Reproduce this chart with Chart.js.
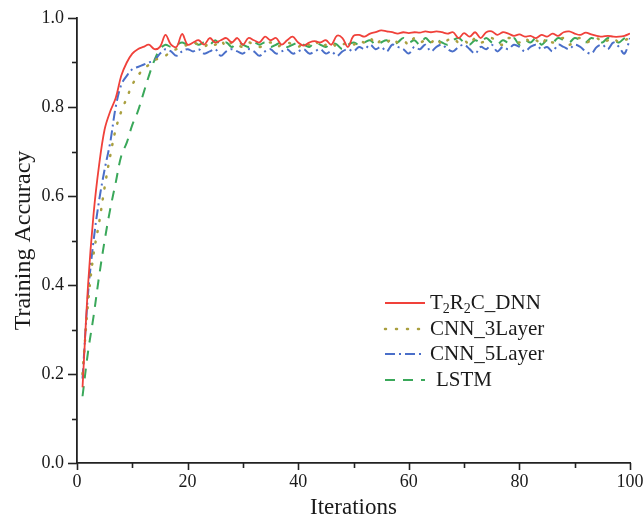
<!DOCTYPE html>
<html>
<head>
<meta charset="utf-8">
<script src="https://cdn.jsdelivr.net/npm/chart.js@4/dist/chart.umd.min.js"></script>
<style>
  html, body { margin: 0; padding: 0; background: #fff; }
  #wrap { width: 644px; height: 521px; }
</style>
</head>
<body>
<div id="wrap"><canvas id="accChart" width="644" height="521"></canvas></div>
<script>
// iterations 1..100
const iterations = Array.from({ length: 100 }, (_, i) => i + 1);

const seriesNames = ['T2R2C_DNN', 'CNN_3Layer', 'CNN_5Layer', 'LSTM'];

const dnnAcc = [
  0.17, 0.40, 0.56, 0.67, 0.75, 0.79, 0.82, 0.87, 0.90, 0.92,
  0.93, 0.935, 0.94, 0.93, 0.935, 0.962, 0.94, 0.935, 0.964, 0.94,
  0.945, 0.95, 0.94, 0.955, 0.945, 0.95, 0.955, 0.945, 0.955, 0.94,
  0.955, 0.95, 0.945, 0.958, 0.95, 0.955, 0.94, 0.95, 0.958, 0.945,
  0.938, 0.945, 0.948, 0.945, 0.95, 0.94, 0.96, 0.955, 0.935, 0.96,
  0.962, 0.958, 0.965, 0.968, 0.972, 0.97, 0.968, 0.965, 0.968, 0.966,
  0.968, 0.967, 0.97, 0.968, 0.97, 0.968, 0.965, 0.968, 0.955, 0.966,
  0.958, 0.968, 0.955, 0.968, 0.97, 0.962, 0.968, 0.965, 0.96, 0.963,
  0.958, 0.96, 0.955, 0.962, 0.958, 0.965, 0.96, 0.968, 0.97, 0.965,
  0.962, 0.967, 0.963, 0.96, 0.958, 0.96, 0.958, 0.958, 0.96, 0.965
];

const cnn3Acc = [
  0.20, 0.36, 0.47, 0.54, 0.62, 0.69, 0.75, 0.79, 0.82, 0.85,
  0.87, 0.885, 0.895, 0.905, 0.91, 0.915, 0.925, 0.93, 0.935, 0.94,
  0.945, 0.94, 0.935, 0.945, 0.94, 0.95, 0.935, 0.945, 0.94, 0.935,
  0.945, 0.94, 0.935, 0.94, 0.945, 0.935, 0.94, 0.945, 0.94, 0.935,
  0.945, 0.94, 0.95, 0.935, 0.94, 0.945, 0.935, 0.94, 0.945, 0.94,
  0.95, 0.945, 0.955, 0.94, 0.95, 0.945, 0.955, 0.945, 0.95, 0.94,
  0.955, 0.945, 0.95, 0.945, 0.955, 0.94, 0.95, 0.955, 0.945, 0.95,
  0.94, 0.955, 0.945, 0.95, 0.955, 0.945, 0.94, 0.955, 0.95, 0.945,
  0.955, 0.945, 0.95, 0.94, 0.955, 0.945, 0.95, 0.955, 0.94, 0.95,
  0.955, 0.945, 0.95, 0.955, 0.945, 0.95, 0.955, 0.945, 0.95, 0.955
];

const cnn5Acc = [
  0.19, 0.38, 0.50, 0.59, 0.66, 0.72, 0.80, 0.85, 0.87, 0.885,
  0.89, 0.895, 0.90, 0.905, 0.92, 0.93, 0.925, 0.915, 0.925, 0.93,
  0.925, 0.93, 0.92, 0.925, 0.93, 0.915, 0.925, 0.93, 0.925, 0.92,
  0.93, 0.925, 0.915, 0.925, 0.93, 0.92, 0.925, 0.93, 0.92, 0.925,
  0.93, 0.92, 0.925, 0.93, 0.92, 0.925, 0.915, 0.925, 0.93, 0.925,
  0.935, 0.93, 0.94, 0.93, 0.935, 0.925, 0.94, 0.935, 0.93, 0.92,
  0.935, 0.93, 0.94, 0.925, 0.935, 0.94, 0.93, 0.925, 0.935, 0.94,
  0.93, 0.92, 0.935, 0.93, 0.94, 0.925, 0.935, 0.93, 0.94, 0.935,
  0.925, 0.935, 0.94, 0.93, 0.935, 0.925, 0.94, 0.935, 0.93, 0.94,
  0.935, 0.925, 0.92, 0.935, 0.94, 0.93, 0.945, 0.935, 0.92, 0.955
];

const lstmAcc = [
  0.15, 0.25, 0.33, 0.42, 0.50, 0.57, 0.63, 0.69, 0.72, 0.76,
  0.79, 0.83, 0.87, 0.905, 0.93, 0.94, 0.935, 0.94, 0.945, 0.94,
  0.945, 0.94, 0.945, 0.94, 0.95, 0.94, 0.945, 0.935, 0.945, 0.94,
  0.935, 0.945, 0.94, 0.945, 0.935, 0.94, 0.945, 0.935, 0.94, 0.945,
  0.94, 0.935, 0.945, 0.94, 0.935, 0.945, 0.94, 0.93, 0.94, 0.945,
  0.94, 0.945, 0.95, 0.94, 0.945, 0.95, 0.94, 0.945, 0.955, 0.945,
  0.95, 0.94, 0.955, 0.945, 0.95, 0.945, 0.94, 0.95, 0.955, 0.945,
  0.94, 0.95, 0.945, 0.955, 0.945, 0.94, 0.95, 0.945, 0.955, 0.94,
  0.95, 0.945, 0.955, 0.94, 0.95, 0.945, 0.955, 0.95, 0.945, 0.955,
  0.95, 0.945, 0.955, 0.95, 0.945, 0.955, 0.95, 0.945, 0.955, 0.96
];

const xTicks = [0, 20, 40, 60, 80, 100];
const yTicks = [0.0, 0.2, 0.4, 0.6, 0.8, 1.0];

const FONT = '"Liberation Serif", "Times New Roman", serif';
const AXIS_COLOR = '#222';
const TEXT_COLOR = '#1a1a1a';

function toPoints(values) {
  return values.map((v, i) => ({ x: iterations[i], y: v }));
}

// minor/major ticks pointing outward
const ticksPlugin = {
  id: 'outerTicks',
  afterDraw(chart) {
    const { ctx, scales: { x, y } } = chart;
    ctx.save();
    ctx.strokeStyle = AXIS_COLOR;
    ctx.lineWidth = 1.6;
    for (let v = 0; v <= 100; v += 10) {
      const px = Math.round(x.getPixelForValue(v)) + 0.5;
      const len = v % 20 === 0 ? 7 : 5;
      ctx.beginPath();
      ctx.moveTo(px, y.bottom);
      ctx.lineTo(px, y.bottom + len);
      ctx.stroke();
    }
    for (let k = 0; k <= 10; k++) {
      const py = Math.round(y.getPixelForValue(k / 10)) + 0.5;
      const len = k % 2 === 0 ? 9 : 5;
      ctx.beginPath();
      ctx.moveTo(x.left, py);
      ctx.lineTo(x.left - len, py);
      ctx.stroke();
    }
    ctx.restore();
  }
};

// legend inside the plot, with subscripts for T2R2C
const legendPlugin = {
  id: 'innerLegend',
  afterDraw(chart) {
    const { ctx } = chart;
    const x0 = 385, x1 = 425, tx = 430;
    const rows = [303, 329, 354, 380];
    ctx.save();
    chart.data.datasets.forEach((ds, i) => {
      const yy = rows[i];
      ctx.strokeStyle = ds.borderColor;
      ctx.lineWidth = ds.borderWidth;
      ctx.lineCap = ds.borderCapStyle || 'butt';
      ctx.setLineDash(ds.borderDash || []);
      ctx.beginPath();
      ctx.moveTo(x0, yy);
      ctx.lineTo(x1, yy);
      ctx.stroke();
      ctx.setLineDash([]);
      ctx.fillStyle = TEXT_COLOR;
      ctx.textBaseline = 'middle';
      if (i === 0) {
        let cx = tx;
        const parts = [['T', 0], ['2', 1], ['R', 0], ['2', 1], ['C_DNN', 0]];
        parts.forEach(([t, sub]) => {
          ctx.font = (sub ? '14px ' : '21px ') + FONT;
          ctx.fillText(t, cx, yy + (sub ? 6 : 0));
          cx += ctx.measureText(t).width;
        });
      } else {
        ctx.font = '21px ' + FONT;
        ctx.fillText(ds.label, i === 3 ? tx + 6 : tx, yy);
      }
    });
    ctx.restore();
  }
};

new Chart(document.getElementById('accChart'), {
  type: 'line',
  data: {
    datasets: [
      {
        label: seriesNames[0],
        data: toPoints(dnnAcc),
        borderColor: '#f0413a',
        borderWidth: 1.8,
        tension: 0.35
      },
      {
        label: seriesNames[1],
        data: toPoints(cnn3Acc),
        borderColor: '#aaa040',
        borderWidth: 2.5,
        borderDash: [1, 10],
        borderCapStyle: 'round',
        tension: 0.35
      },
      {
        label: seriesNames[2],
        data: toPoints(cnn5Acc),
        borderColor: '#4a6fc9',
        borderWidth: 2,
        borderDash: [10, 4, 2, 4],
        tension: 0.35
      },
      {
        label: seriesNames[3],
        data: toPoints(lstmAcc),
        borderColor: '#3aa85a',
        borderWidth: 2,
        borderDash: [10, 8],
        tension: 0.35
      }
    ]
  },
  options: {
    responsive: false,
    animation: false,
    layout: { padding: { top: 18, right: 14, left: 0, bottom: 0 } },
    elements: { point: { radius: 0 } },
    plugins: {
      legend: { display: false },
      tooltip: { enabled: false }
    },
    scales: {
      x: {
        type: 'linear',
        min: 0,
        max: 100,
        afterFit(scale) {
          scale.height = 58;
          scale.paddingLeft = 0;
          scale.paddingRight = 0;
        },
        afterBuildTicks(scale) { scale.ticks = xTicks.map(v => ({ value: v })); },
        grid: { display: false, drawTicks: false },
        border: { display: true, color: AXIS_COLOR, width: 1.8 },
        ticks: {
          color: TEXT_COLOR,
          font: { family: FONT, size: 18 },
          padding: 8,
          maxRotation: 0
        },
        title: {
          display: true,
          text: 'Iterations',
          color: TEXT_COLOR,
          font: { family: FONT, size: 23 },
          padding: { top: 0, bottom: -1 }
        }
      },
      y: {
        type: 'linear',
        min: 0,
        max: 1,
        afterFit(scale) {
          scale.width = 77;
          scale.paddingTop = 0;
          scale.paddingBottom = 0;
        },
        afterBuildTicks(scale) { scale.ticks = yTicks.map(v => ({ value: v })); },
        grid: { display: false, drawTicks: false },
        border: { display: true, color: AXIS_COLOR, width: 1.8 },
        ticks: {
          color: TEXT_COLOR,
          font: { family: FONT, size: 18 },
          padding: 13,
          callback: v => v.toFixed(1)
        },
        title: {
          display: true,
          text: 'Training Accuracy',
          color: TEXT_COLOR,
          font: { family: FONT, size: 24 },
          padding: { top: 9, bottom: 0 }
        }
      }
    }
  },
  plugins: [ticksPlugin, legendPlugin]
});
</script>
</body>
</html>
